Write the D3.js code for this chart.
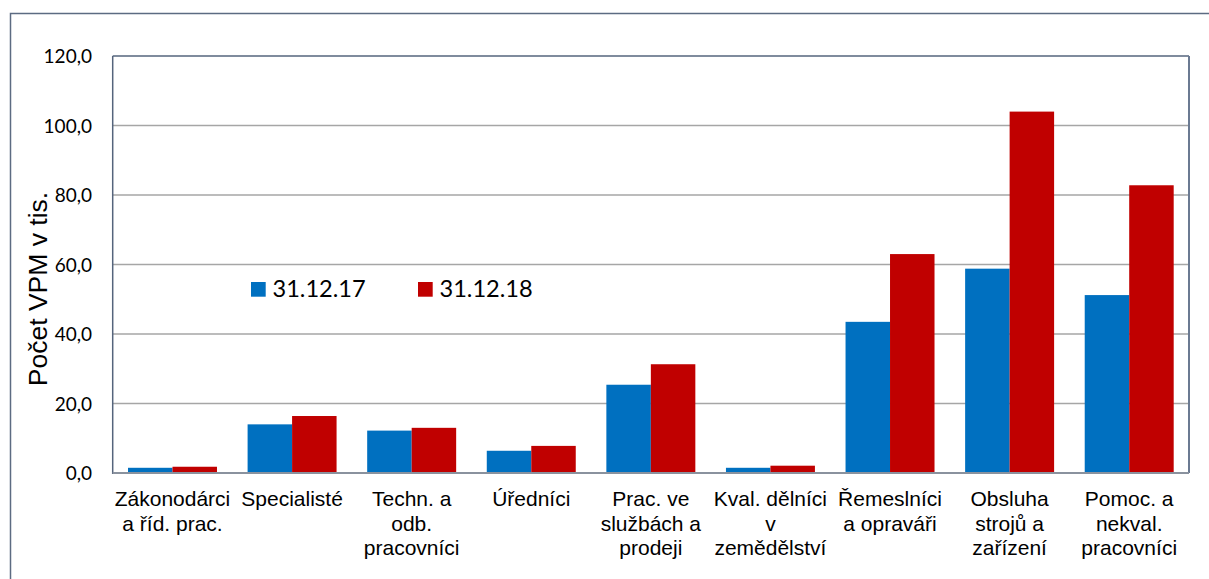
<!DOCTYPE html>
<html><head><meta charset="utf-8">
<script src="https://cdn.jsdelivr.net/npm/d3@7"></script>
<style>body{margin:0;background:#fff}svg{display:block}</style>
</head><body><svg id="c" width="1209" height="579"></svg>
<script>
const categories = [
  ["Zákonodárci","a říd. prac."],
  ["Specialisté"],
  ["Techn. a","odb.","pracovníci"],
  ["Úředníci"],
  ["Prac. ve","službách a","prodeji"],
  ["Kval. dělníci","v","zemědělství"],
  ["Řemeslníci","a opraváři"],
  ["Obsluha","strojů a","zařízení"],
  ["Pomoc. a","nekval.","pracovníci"]
];
const seriesNames = ["31.12.17","31.12.18"];
const values2017 = [1.5, 14.0, 12.2, 6.4, 25.4, 1.5, 43.5, 58.8, 51.2];
const values2018 = [1.8, 16.4, 13.0, 7.8, 31.3, 2.1, 63.0, 104.0, 82.8];
const yTicks = [0, 20, 40, 60, 80, 100, 120];
const colors = ["#0070c0", "#c00000"];

const svg = d3.select("#c");
const x0 = 112.7, x1 = 1189, yTop = 56, yBot = 473;
const catKeys = categories.map((c,i)=>i);
const x = d3.scaleBand().domain(catKeys).range([x0,x1]).paddingInner(0.256).paddingOuter(0.128);
const xs = d3.scaleBand().domain([0,1]).range([0,x.bandwidth()]);
const y = d3.scaleLinear().domain([0,120]).range([yBot,yTop]);

// outer border
svg.append("rect").attr("x",10.5).attr("y",13.5).attr("width",1250).attr("height",600)
  .attr("fill","none").attr("stroke","#5c6b82").attr("stroke-width",1.5);

// gridlines
svg.append("g").selectAll("line").data(yTicks.filter(t=>t>0&&t<120)).join("line")
  .attr("x1",x0).attr("x2",x1).attr("y1",d=>y(d)).attr("y2",d=>y(d))
  .attr("stroke","#a6a6a6").attr("stroke-width",1.5);

// bars
const data = [values2017, values2018];
const g = svg.append("g");
data.forEach((vals,si)=>{
  g.selectAll(null).data(vals).join("rect")
    .attr("x",(d,i)=>x(i)+xs(si)).attr("width",xs.bandwidth())
    .attr("y",d=>y(d)).attr("height",d=>yBot-y(d))
    .attr("fill",colors[si]);
});

// plot frame
svg.append("line").attr("x1",x0).attr("x2",x1).attr("y1",yTop).attr("y2",yTop).attr("stroke","#55647c").attr("stroke-width",1.5);
svg.append("line").attr("x1",x1).attr("x2",x1).attr("y1",yTop).attr("y2",yBot).attr("stroke","#6b7a92").attr("stroke-width",2);
svg.append("line").attr("x1",x0).attr("x2",x0).attr("y1",yTop).attr("y2",yBot+1).attr("stroke","#55647c").attr("stroke-width",1.5);
svg.append("line").attr("x1",x0).attr("x2",x1).attr("y1",yBot).attr("y2",yBot).attr("stroke","#8a929e").attr("stroke-width",2);

// y axis labels
const yAxis = d3.axisLeft(y).tickValues(yTicks).tickSize(0).tickPadding(0)
  .tickFormat(d=>d3.format(".1f")(d).replace(".",","));
const ya = svg.append("g").attr("transform",`translate(92,0)`).call(yAxis);
ya.select(".domain").remove();
ya.selectAll("text").attr("font-family","Lato, 'Open Sans', sans-serif").attr("font-size",19).attr("fill","#000").attr("dy","0.35em");

// x category labels
const xl = svg.append("g");
categories.forEach((lines,i)=>{
  const cx = x(i)+x.bandwidth()/2;
  const t = xl.append("text").attr("x",cx).attr("y",506)
    .attr("text-anchor","middle").attr("font-family","'Liberation Sans', Arial, sans-serif")
    .attr("font-size",21).attr("fill","#000");
  lines.forEach((l,j)=>t.append("tspan").attr("x",cx).attr("y",506+j*24.5).text(l));
});

// y title
svg.append("text").attr("transform","translate(47,289) rotate(-90)")
  .attr("text-anchor","middle").attr("font-family","'Liberation Sans', Arial, sans-serif")
  .attr("font-size",26.5).attr("fill","#000").text("Počet VPM v tis.");

// legend
const legX = [251, 418];
seriesNames.forEach((n,i)=>{
  svg.append("rect").attr("x",legX[i]).attr("y",282).attr("width",14.7).attr("height",14.7).attr("fill",colors[i]);
  svg.append("text").attr("x",legX[i]+21.5).attr("y",297).attr("font-family","Lato, 'Open Sans', sans-serif")
    .attr("font-size",23.6).attr("fill","#000").text(n);
});
</script></body></html>
